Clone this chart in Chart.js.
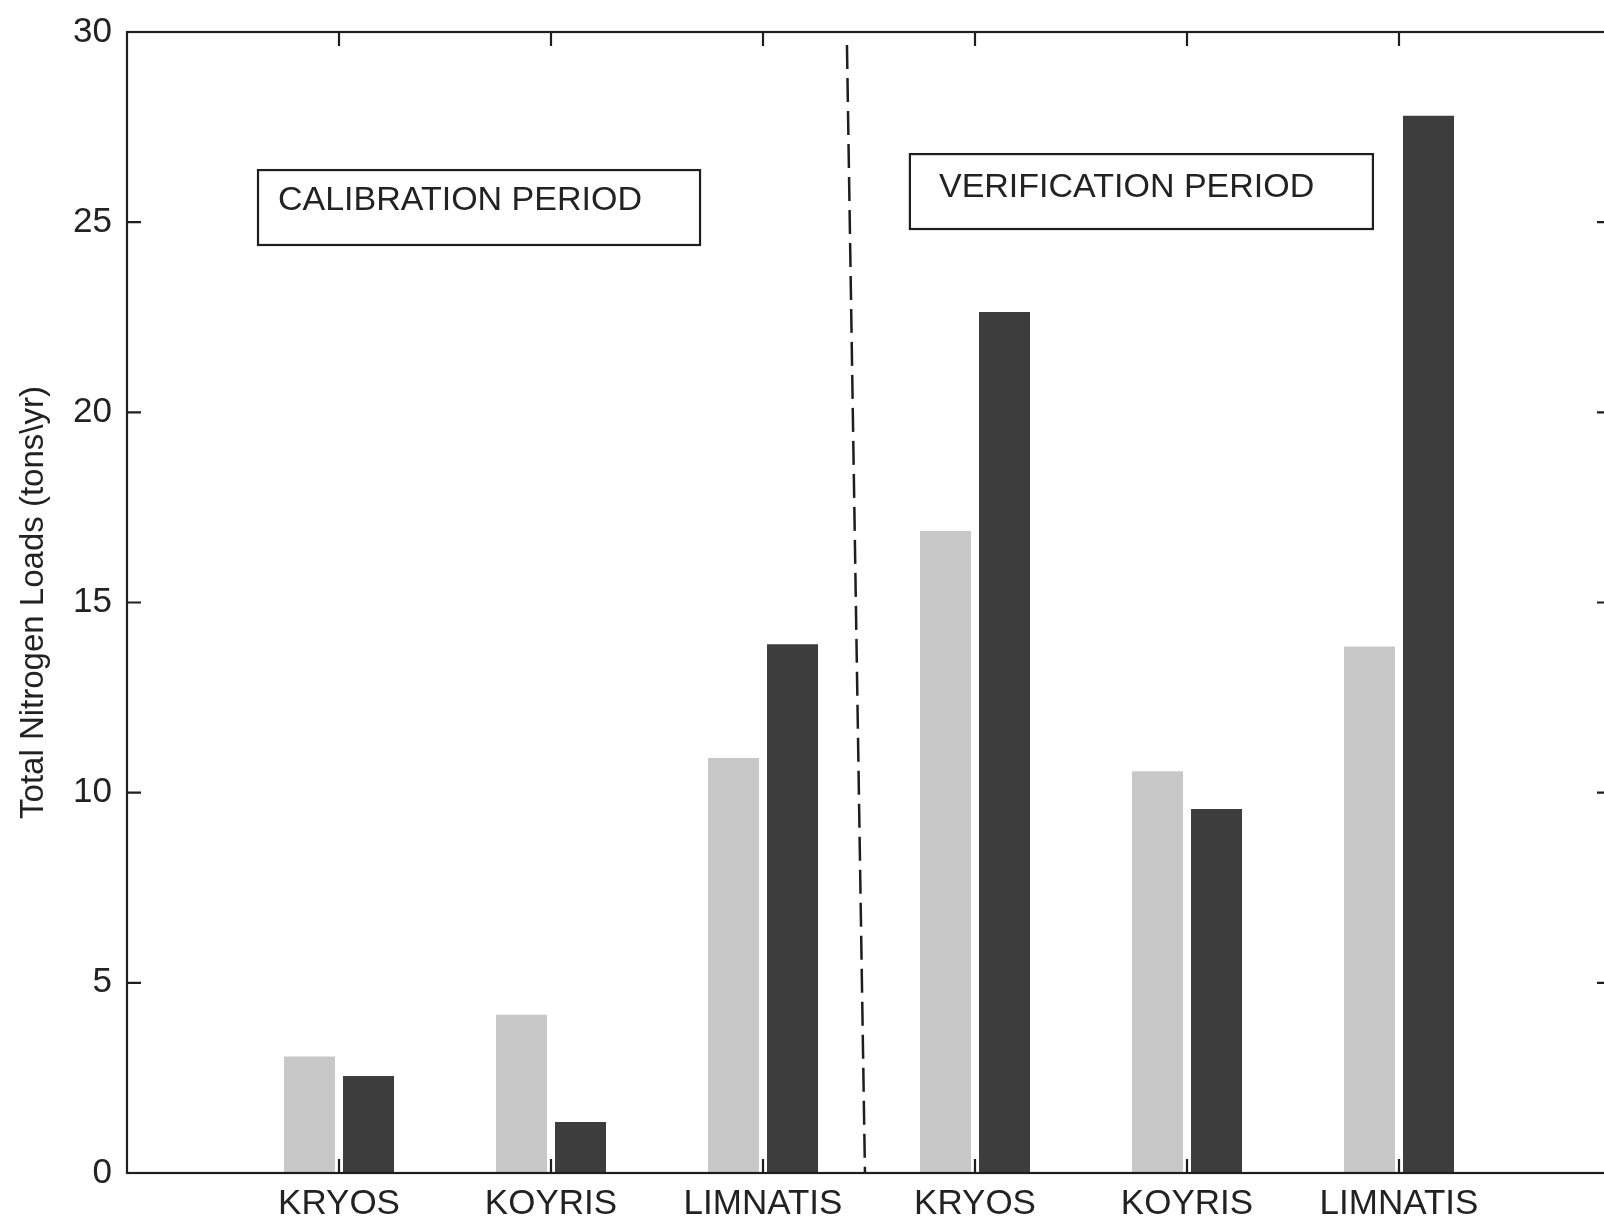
<!DOCTYPE html>
<html>
<head>
<meta charset="utf-8">
<title>Total Nitrogen Loads</title>
<script src="https://cdn.jsdelivr.net/npm/chart.js@4.4.1/dist/chart.umd.min.js"></script>
<style>
  html, body { margin: 0; padding: 0; background: #fff; overflow: hidden; }
  canvas { display: block; }
</style>
</head>
<body>
<canvas id="chart" width="1620" height="1224"></canvas>
<script>
// sites, calibration period first then verification period
const sites = ['KRYOS', 'KOYRIS', 'LIMNATIS', 'KRYOS', 'KOYRIS', 'LIMNATIS'];
const measured = [3.06, 4.16, 10.91, 16.88, 10.56, 13.84];
const simulated = [2.55, 1.34, 13.9, 22.64, 9.57, 27.8];
const yTicks = [0, 5, 10, 15, 20, 25, 30];

const FONT = "'Liberation Sans', Arial, sans-serif";

// empty slots at both ends so the axis runs from 0 to sites.length + 1
const labels = ['', ...sites, ''];
const pad = arr => [null, ...arr, null];

// period annotations, in axis units
const notes = [
    { text: 'CALIBRATION PERIOD', box: [0.618, 2.703, 26.37, 24.40], at: [0.712, 25.57] },
    { text: 'VERIFICATION PERIOD', box: [3.693, 5.877, 26.79, 24.82], at: [3.830, 25.90] }
];
const divider = [[3.396, 29.66], [3.481, 0]];

const matlabFrame = {
    id: 'matlabFrame',
    afterDatasetsDraw(chart) {
        const { ctx, chartArea: a, scales: { x, y } } = chart;
        const tl = 14;
        ctx.save();
        ctx.strokeStyle = '#1e1e1e';
        ctx.lineWidth = 2.2;

        // inward ticks
        ctx.beginPath();
        yTicks.forEach(v => {
            const py = y.getPixelForValue(v);
            ctx.moveTo(a.left, py); ctx.lineTo(a.left + tl, py);
            ctx.moveTo(a.right, py); ctx.lineTo(a.right - tl, py);
        });
        sites.forEach((s, i) => {
            const px = x.getPixelForValue(i + 1);
            ctx.moveTo(px, a.bottom); ctx.lineTo(px, a.bottom - tl);
            ctx.moveTo(px, a.top); ctx.lineTo(px, a.top + tl);
        });
        ctx.stroke();

        // dashed divider between periods
        ctx.beginPath();
        ctx.setLineDash([24, 9]);
        ctx.lineWidth = 2.5;
        ctx.moveTo(x.getPixelForValue(divider[0][0]), y.getPixelForValue(divider[0][1]));
        ctx.lineTo(x.getPixelForValue(divider[1][0]), y.getPixelForValue(divider[1][1]));
        ctx.stroke();
        ctx.setLineDash([]);
        ctx.lineWidth = 2.2;

        // period labels
        ctx.font = '34px ' + FONT;
        ctx.textAlign = 'left';
        ctx.textBaseline = 'middle';
        notes.forEach(n => {
            const x0 = x.getPixelForValue(n.box[0]), x1 = x.getPixelForValue(n.box[1]);
            const y0 = y.getPixelForValue(n.box[2]), y1 = y.getPixelForValue(n.box[3]);
            ctx.fillStyle = '#fff';
            ctx.fillRect(x0, y0, x1 - x0, y1 - y0);
            ctx.strokeRect(x0, y0, x1 - x0, y1 - y0);
            ctx.fillStyle = '#222';
            ctx.fillText(n.text, x.getPixelForValue(n.at[0]), y.getPixelForValue(n.at[1]));
        });

        // axes box
        ctx.strokeRect(a.left, a.top, a.right - a.left, a.bottom - a.top);
        ctx.restore();
    }
};

new Chart(document.getElementById('chart'), {
    type: 'bar',
    data: {
        labels: labels,
        datasets: [
            {
                label: 'Measured',
                data: pad(measured),
                backgroundColor: '#c8c8c8'
            },
            {
                label: 'Simulated',
                data: pad(simulated),
                backgroundColor: '#3d3d3d'
            }
        ]
    },
    options: {
        responsive: false,
        animation: false,
        devicePixelRatio: 1,
        categoryPercentage: 0.557,
        barPercentage: 0.864,
        layout: { padding: { top: 32, right: 9, left: 0, bottom: 0 } },
        plugins: {
            legend: { display: false },
            tooltip: { enabled: false }
        },
        scales: {
            x: {
                offset: false,
                grid: { display: false, drawTicks: false },
                border: { display: false },
                ticks: {
                    autoSkip: false,
                    maxRotation: 0,
                    padding: 10,
                    color: '#222',
                    font: { family: FONT, size: 35 }
                },
                afterFit(scale) {
                    scale.height = 51;
                    scale.paddingLeft = 0;
                    scale.paddingRight = 0;
                }
            },
            y: {
                min: 0,
                max: 30,
                grid: { display: false, drawTicks: false },
                border: { display: false },
                ticks: {
                    stepSize: 5,
                    padding: 15,
                    color: '#222',
                    font: { family: FONT, size: 35 }
                },
                title: {
                    display: true,
                    text: 'Total Nitrogen Loads (tons\\yr)',
                    color: '#222',
                    padding: { top: 14, bottom: 0 },
                    font: { family: FONT, size: 33 }
                },
                afterFit(scale) {
                    scale.width = 127;
                    scale.paddingTop = 0;
                    scale.paddingBottom = 0;
                }
            }
        }
    },
    plugins: [matlabFrame]
});
</script>
</body>
</html>
